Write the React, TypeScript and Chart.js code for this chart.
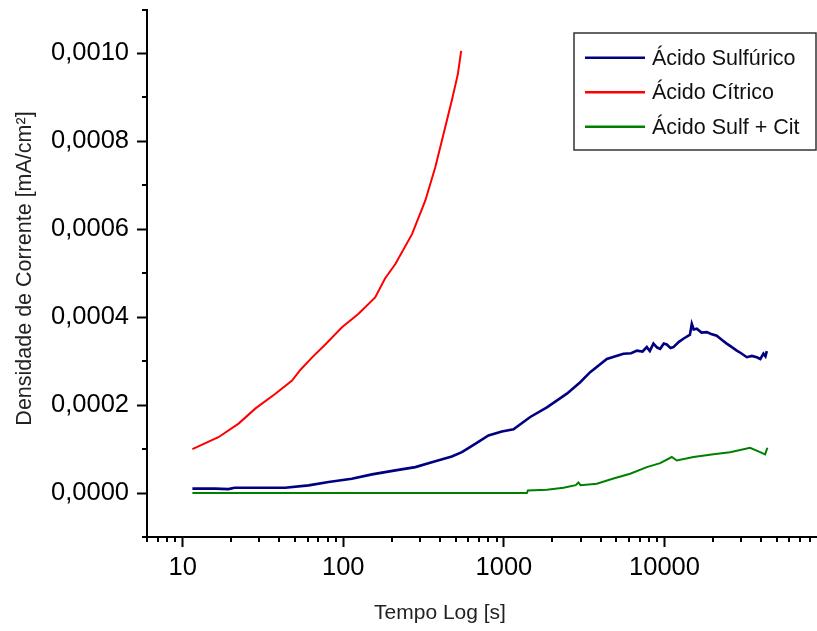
import React, { useEffect, useRef } from "react";
import { Chart, registerables } from "chart.js";

Chart.register(...registerables);

// ---- data ----
const seriesLabels = ["Ácido Sulfúrico", "Ácido Cítrico", "Ácido Sulf + Cit"];
const seriesColors = ["#000080", "#FF0000", "#008000"];
const seriesWidths = [2.6, 2, 2];

const sulfTime = [11.5, 16, 19.3, 21, 30, 43.5, 60.8, 81, 113, 151, 211, 281, 356, 474, 548, 663, 802, 972, 1148, 1459, 1853, 2467, 2987, 3445, 4375, 5550, 6200, 6730, 7300, 7760, 8100, 8530, 9000, 9400, 9900, 10330, 10900, 11360, 12300, 13110, 14090, 14400, 14790, 15200, 15890, 17000, 18330, 19500, 21150, 22800, 24400, 26000, 28180, 30000, 32540, 35000, 37520, 39500, 41300, 42500, 43350];
const sulfValue = [0.00001, 0.00001, 0.000009, 0.000012, 0.000012, 0.000012, 0.0000175, 0.000025, 0.0000327, 0.0000425, 0.0000516, 0.000059, 0.00007, 0.000083, 0.000093, 0.000112, 0.000131, 0.00014, 0.000145, 0.000173, 0.000195, 0.000226, 0.000252, 0.000275, 0.000305, 0.000317, 0.000318, 0.000324, 0.000322, 0.000332, 0.000323, 0.00034, 0.000331, 0.000328, 0.00034, 0.000338, 0.00033, 0.000332, 0.000344, 0.000351, 0.000358, 0.00036, 0.000385, 0.000372, 0.000374, 0.000365, 0.000366, 0.000362, 0.000358, 0.000348, 0.00034, 0.000333, 0.000324, 0.000318, 0.000309, 0.000312, 0.000309, 0.000305, 0.000317, 0.000311, 0.000323];

const citTime = [11.5, 16.7, 22.3, 28.3, 37.8, 48, 54, 63.8, 77.3, 98.2, 124.5, 158, 182, 211, 268, 324, 374, 421, 474, 517, 542];
const citValue = [0.0001, 0.000127, 0.000158, 0.000192, 0.000226, 0.000256, 0.00028, 0.000308, 0.000338, 0.000377, 0.000408, 0.000445, 0.000488, 0.000521, 0.000589, 0.000665, 0.000741, 0.000817, 0.000893, 0.000953, 0.001006];

const mixTime = [11.5, 100, 713, 1390, 1410, 1853, 2350, 2800, 2910, 3000, 3790, 4810, 6110, 7760, 9400, 11100, 11930, 15150, 20180, 25600, 34100, 39400, 42300, 43700];
const mixValue = [0, 0, 0, 0, 0.000006, 0.0000077, 0.000012, 0.000018, 0.000024, 0.000018, 0.000021, 0.000033, 0.000044, 0.000059, 0.000068, 0.000082, 0.000074, 0.000082, 0.000088, 0.000093, 0.000103, 0.000093, 0.000088, 0.000103];

const xMajorTicks = [10, 100, 1000, 10000];
const xMinorTicks = [6, 7, 8, 9, 20, 30, 40, 50, 60, 70, 80, 90, 200, 300, 400, 500, 600, 700, 800, 900, 2000, 3000, 4000, 5000, 6000, 7000, 8000, 9000, 20000, 30000, 40000, 50000, 60000, 70000, 80000];
const yMajorTicks = [0, 0.0002, 0.0004, 0.0006, 0.0008, 0.001];
const yMinorTicks = [-0.0001, 0.0001, 0.0003, 0.0005, 0.0007, 0.0009, 0.0011];
const xAxisMin = 6;
const xAxisMax = 89000;
const yAxisMin = -0.0001;
const yAxisMax = 0.0011;
const xTitle = "Tempo Log [s]";
const yTitle = "Densidade de Corrente [mA/cm²]";

const FONT = "'Liberation Sans', Arial, sans-serif";

function pts(t: number[], v: number[]) {
  return t.map((x, i) => ({ x, y: v[i] }));
}

const decorPlugin = {
  id: "decor",
  afterDraw(chart: any) {
    const ctx = chart.ctx as CanvasRenderingContext2D;
    const xs = chart.scales.x;
    const ys = chart.scales.y;
    const area = chart.chartArea;
    ctx.save();
    // minor ticks
    ctx.strokeStyle = "#000";
    ctx.lineWidth = 2;
    ctx.beginPath();
    for (const v of yMinorTicks) {
      const py = Math.round(ys.getPixelForValue(v));
      ctx.moveTo(area.left - 5, py);
      ctx.lineTo(area.left, py);
    }
    for (const v of xMinorTicks) {
      const px = Math.round(xs.getPixelForValue(v));
      ctx.moveTo(px, area.bottom);
      ctx.lineTo(px, area.bottom + 5);
    }
    ctx.stroke();

    // axis titles
    ctx.fillStyle = "#222";
    ctx.font = `21px ${FONT}`;
    ctx.textAlign = "center";
    ctx.textBaseline = "middle";
    ctx.fillText(xTitle, 440, 613);
    ctx.save();
    ctx.translate(25, 268.5);
    ctx.rotate(-Math.PI / 2);
    ctx.font = `21.5px ${FONT}`;
    ctx.fillText(yTitle, 0, 0);
    ctx.restore();

    // legend
    const bx = 574, by = 33, bw = area.right - 1 - bx, bh = 117;
    ctx.strokeStyle = "#333";
    ctx.lineWidth = 1.5;
    ctx.strokeRect(bx, by, bw, bh);
    ctx.font = `21.5px ${FONT}`;
    ctx.textAlign = "left";
    ctx.textBaseline = "middle";
    chart.data.datasets.forEach((ds: any, i: number) => {
      const ly = 57.7 + i * 34.5;
      ctx.strokeStyle = ds.borderColor;
      ctx.lineWidth = 2.5;
      ctx.beginPath();
      ctx.moveTo(585, ly);
      ctx.lineTo(645, ly);
      ctx.stroke();
      ctx.fillStyle = "#111";
      ctx.fillText(ds.label, 652, ly + 1);
    });
    ctx.restore();
  },
};

export default function App() {
  const ref = useRef<HTMLCanvasElement | null>(null);
  useEffect(() => {
    if (!ref.current) return;
    const chart = new Chart(ref.current, {
      type: "line",
      data: {
        datasets: [
          { label: seriesLabels[0], data: pts(sulfTime, sulfValue), borderColor: seriesColors[0], borderWidth: seriesWidths[0] },
          { label: seriesLabels[1], data: pts(citTime, citValue), borderColor: seriesColors[1], borderWidth: seriesWidths[1] },
          { label: seriesLabels[2], data: pts(mixTime, mixValue), borderColor: seriesColors[2], borderWidth: seriesWidths[2] },
        ],
      },
      options: {
        animation: false,
        responsive: false,
        maintainAspectRatio: false,
        elements: { point: { radius: 0 }, line: { tension: 0 } },
        layout: { padding: { left: 0, right: 0, top: 9.5, bottom: 0 } },
        plugins: { legend: { display: false }, tooltip: { enabled: false } },
        scales: {
          x: {
            type: "logarithmic",
            min: xAxisMin,
            max: xAxisMax,
            afterFit: (s: any) => { s.height = 94; s.paddingLeft = 0; s.paddingRight = 0; },
            afterBuildTicks: (s: any) => { s.ticks = xMajorTicks.map((v) => ({ value: v, major: true })); },
            grid: { display: true, drawOnChartArea: false, drawTicks: true, tickLength: 10, tickWidth: 2, tickColor: "#000" },
            border: { display: true, color: "#000", width: 2 },
            ticks: {
              autoSkip: false,
              maxRotation: 0,
              padding: 6,
              color: "#000",
              font: { family: FONT, size: 25.5 },
              callback: (v: any) => String(v),
            },
          },
          y: {
            type: "linear",
            min: yAxisMin,
            max: yAxisMax,
            afterFit: (s: any) => { s.width = 147; s.paddingTop = 0; s.paddingBottom = 0; },
            afterBuildTicks: (s: any) => { s.ticks = yMajorTicks.map((v) => ({ value: v })); },
            grid: { display: true, drawOnChartArea: false, drawTicks: true, tickLength: 10, tickWidth: 2, tickColor: "#000" },
            border: { display: true, color: "#000", width: 2 },
            ticks: {
              padding: 8,
              color: "#000",
              font: { family: FONT, size: 25.5 },
              callback: (v: any) => Number(v).toFixed(4).replace(".", ","),
            },
          },
        },
      },
      plugins: [decorPlugin],
    });
    return () => chart.destroy();
  }, []);
  return (
    <div style={{ position: "absolute", left: 0, top: 0, width: 817, height: 631, background: "#fff" }}>
      <canvas ref={ref} width={817} height={631} style={{ display: "block" }} />
    </div>
  );
}
